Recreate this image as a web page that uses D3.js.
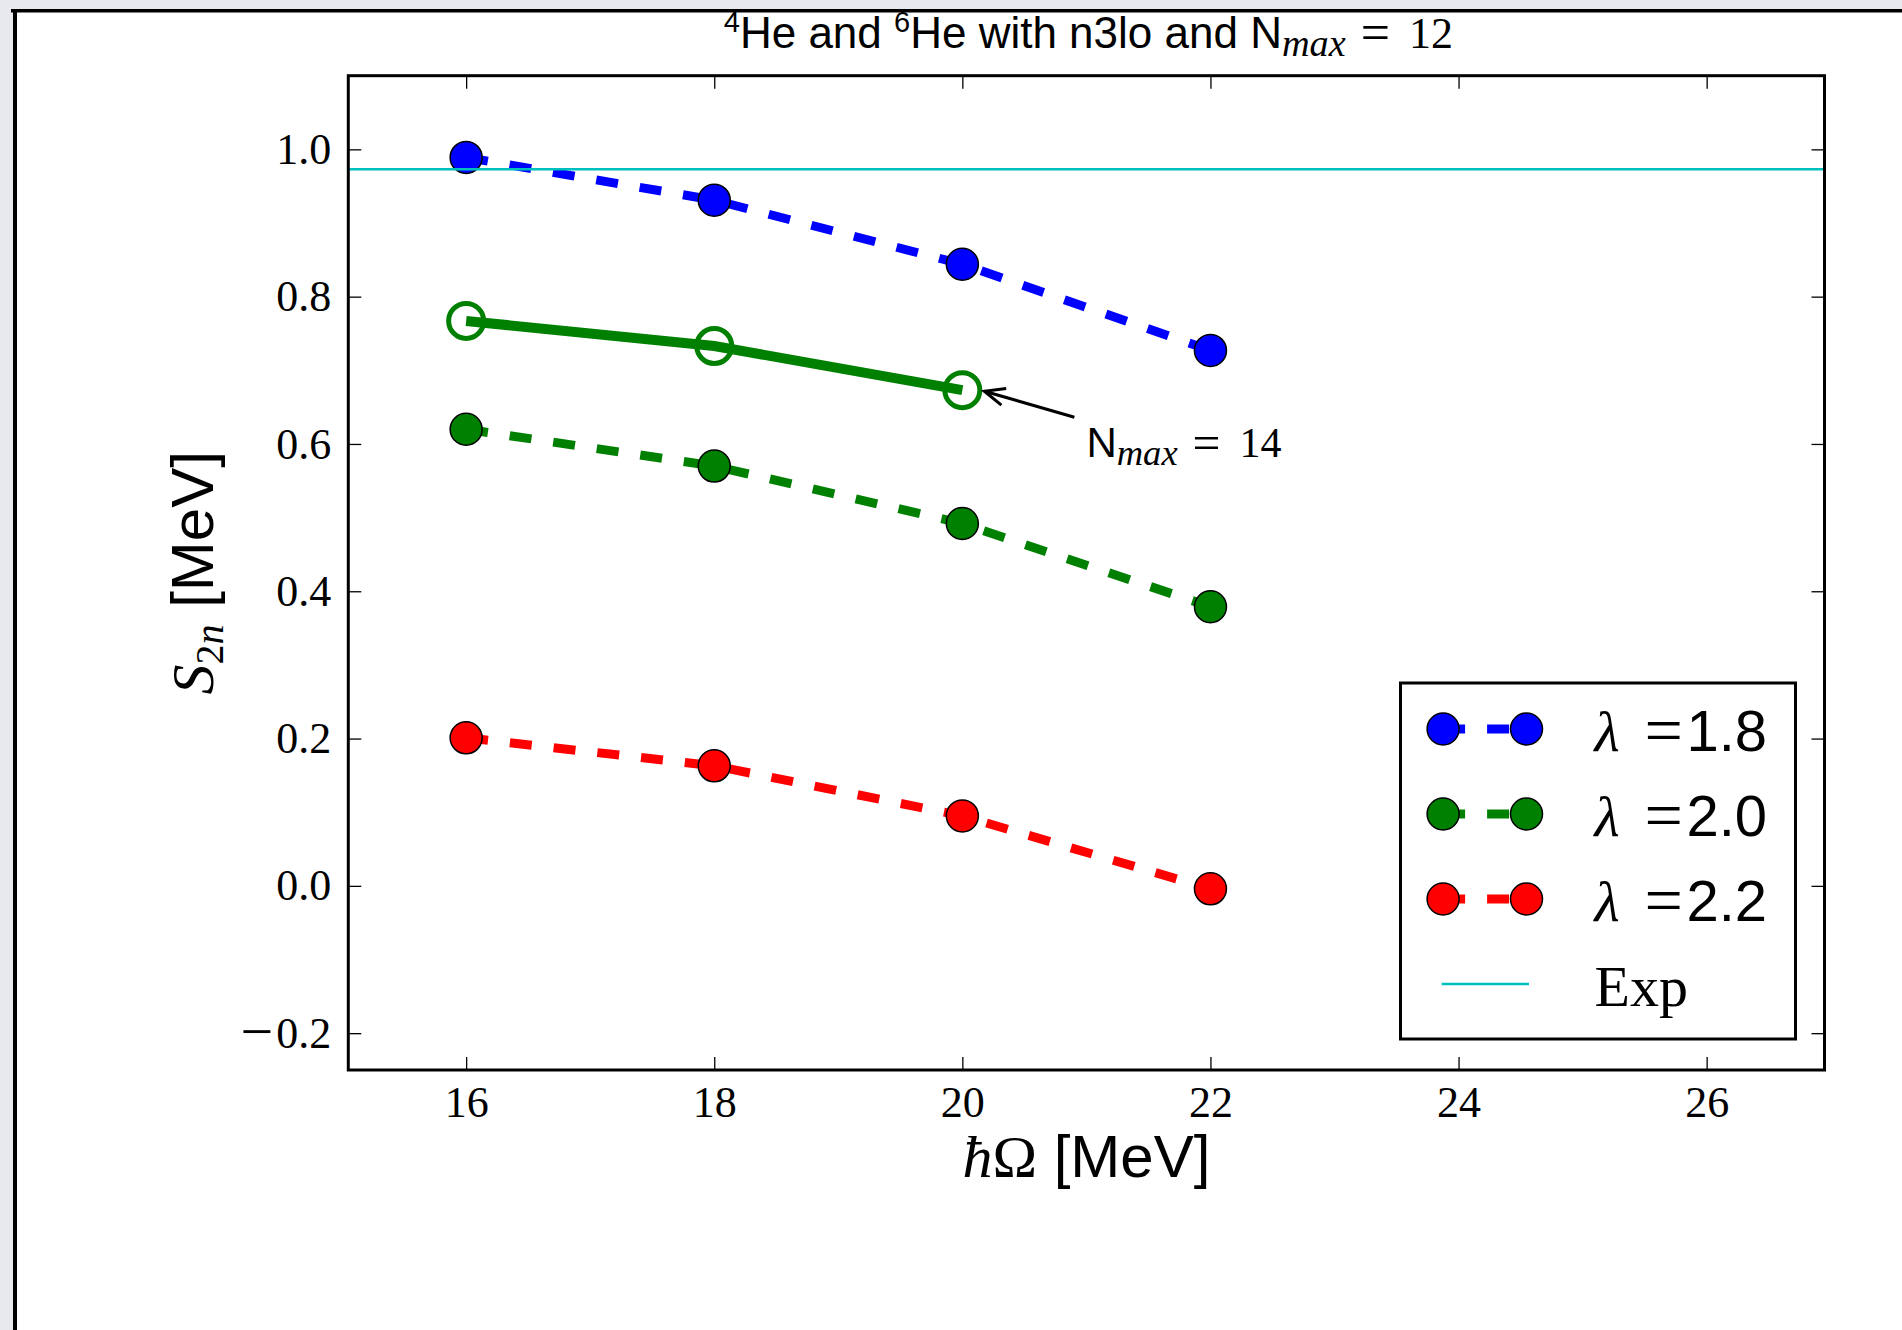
<!DOCTYPE html>
<html>
<head>
<meta charset="utf-8">
<script src="https://cdn.jsdelivr.net/npm/d3@7"></script>
<style>
  body { margin: 0; background: #e8e9ec; }
  svg { display: block; }
  text { white-space: pre; }
</style>
</head>
<body>
<script>
// Two-neutron separation energy of 6He vs oscillator frequency
const hbarOmega      = [16, 18, 20, 22];
const s2nLambda18    = [0.989, 0.931, 0.844, 0.727];
const s2nLambda20    = [0.620, 0.570, 0.492, 0.379];
const s2nLambda22    = [0.201, 0.163, 0.095, -0.004];
const hbarOmegaN14   = [16, 18, 20];
const s2nLambda20N14 = [0.767, 0.733, 0.673];
const s2nExp         = 0.973;

const lambdaLabels = ["1.8", "2.0", "2.2"];
const lambdaColors = ["#0000ff", "#008000", "#ff0000"];
const xTickValues  = [16, 18, 20, 22, 24, 26];
const yTickValues  = [-0.2, 0.0, 0.2, 0.4, 0.6, 0.8, 1.0];
const xDomain      = [15.05, 26.95];
const yDomain      = [-0.25, 1.1];

const W = 1902, H = 1330;
const plot = { left: 348.3, right: 1824.5, top: 75.7, bottom: 1070 };

const SERIF = "'Liberation Serif', 'Times New Roman', serif";
const SANS  = "'Liberation Sans', Arial, Helvetica, sans-serif";

const svg = d3.select("body").append("svg").attr("width", W).attr("height", H);

// window frame
svg.append("rect").attr("x", 0).attr("y", 0).attr("width", W).attr("height", H).attr("fill", "#e8e9ec");
svg.append("rect").attr("x", 13).attr("y", 9).attr("width", W - 13).attr("height", H - 9).attr("fill", "#ffffff");
svg.append("rect").attr("x", 11).attr("y", 9).attr("width", W - 11).attr("height", 3.5).attr("fill", "#000");
svg.append("rect").attr("x", 13).attr("y", 9).attr("width", 4).attr("height", H - 9).attr("fill", "#000");

const x = d3.scaleLinear().domain(xDomain).range([plot.left, plot.right]);
const y = d3.scaleLinear().domain(yDomain).range([plot.bottom, plot.top]);

svg.append("defs").append("clipPath").attr("id", "plotArea")
  .append("rect").attr("x", plot.left).attr("y", plot.top)
  .attr("width", plot.right - plot.left).attr("height", plot.bottom - plot.top);

// axes with inward ticks on all four sides
const TICK = 13;
const TICK_FONT = 44;
function styleAxis(g, withLabels) {
  g.select(".domain").remove();
  g.selectAll(".tick line").attr("stroke", "#000").attr("stroke-width", 1.3);
  g.selectAll(".tick text")
    .attr("font-family", SERIF).attr("font-size", TICK_FONT).attr("fill", "#000");
  if (!withLabels) g.selectAll(".tick text").remove();
}
svg.append("g").attr("transform", `translate(0,${plot.bottom})`)
  .call(d3.axisBottom(x).tickValues(xTickValues).tickSizeInner(-TICK).tickSizeOuter(0)
        .tickPadding(16).tickFormat(d3.format("d")))
  .call(g => styleAxis(g, true));
svg.append("g").attr("transform", `translate(0,${plot.top})`)
  .call(d3.axisTop(x).tickValues(xTickValues).tickSizeInner(-TICK).tickSizeOuter(0))
  .call(g => styleAxis(g, false));
const yAxisG = svg.append("g").attr("transform", `translate(${plot.left},0)`)
  .call(d3.axisLeft(y).tickValues(yTickValues).tickSizeInner(-TICK).tickSizeOuter(0)
        .tickPadding(17).tickFormat(d3.format(".1f")))
  .call(g => styleAxis(g, true));
// wider math-style minus sign on negative labels
yAxisG.selectAll(".tick text").each(function () {
  const t = d3.select(this);
  const s = t.text();
  if (s.startsWith("\u2212")) {
    const base = 0.32 * TICK_FONT;
    t.text(null).attr("dy", null);
    t.append("tspan").attr("font-size", 58).attr("dy", base + 3.5).text("\u2212");
    t.append("tspan").attr("dy", -3.5).attr("dx", 3).text(s.slice(1));
  }
});
svg.append("g").attr("transform", `translate(${plot.right},0)`)
  .call(d3.axisRight(y).tickValues(yTickValues).tickSizeInner(-TICK).tickSizeOuter(0))
  .call(g => styleAxis(g, false));

// data
const line = d3.line().x(d => x(d[0])).y(d => y(d[1]));
const MARKER_R = 16;
const DASH = "22,22";

const dataLayer = svg.append("g").attr("clip-path", "url(#plotArea)");
const lambdaSeries = [s2nLambda18, s2nLambda20, s2nLambda22];
lambdaSeries.forEach((vals, i) => {
  const pts = d3.zip(hbarOmega, vals);
  dataLayer.append("path").datum(pts).attr("d", line)
    .attr("fill", "none").attr("stroke", lambdaColors[i])
    .attr("stroke-width", 9).attr("stroke-dasharray", DASH);
  dataLayer.selectAll(null).data(pts).join("circle")
    .attr("cx", d => x(d[0])).attr("cy", d => y(d[1])).attr("r", MARKER_R)
    .attr("fill", lambdaColors[i]).attr("stroke", "#000").attr("stroke-width", 1.5);
});

// experimental value
dataLayer.append("line")
  .attr("x1", plot.left).attr("x2", plot.right)
  .attr("y1", y(s2nExp)).attr("y2", y(s2nExp))
  .attr("stroke", "#00bfbf").attr("stroke-width", 2.6);

// lambda = 2.0 at Nmax = 14
const ptsN14 = d3.zip(hbarOmegaN14, s2nLambda20N14);
dataLayer.append("path").datum(ptsN14).attr("d", line)
  .attr("fill", "none").attr("stroke", "#008000").attr("stroke-width", 10);
dataLayer.selectAll(null).data(ptsN14).join("circle")
  .attr("cx", d => x(d[0])).attr("cy", d => y(d[1])).attr("r", 17.5)
  .attr("fill", "none").attr("stroke", "#008000").attr("stroke-width", 5);

// annotation pointing at the last Nmax = 14 point
const annX = 21.0, annY = 0.582;
const target = ptsN14[ptsN14.length - 1];
const tip  = [x(target[0]) + 22, y(target[1]) + 1];
const tail = [x(annX) - 12, y(annY) - 40];
svg.append("line").attr("x1", tail[0]).attr("y1", tail[1]).attr("x2", tip[0]).attr("y2", tip[1])
  .attr("stroke", "#000").attr("stroke-width", 3);
{
  const ang = Math.atan2(tail[1] - tip[1], tail[0] - tip[0]);
  const L = 22, half = 23 * Math.PI / 180;
  const p1 = [tip[0] + L * Math.cos(ang - half), tip[1] + L * Math.sin(ang - half)];
  const p2 = [tip[0] + L * Math.cos(ang + half), tip[1] + L * Math.sin(ang + half)];
  svg.append("path").attr("d", `M${p1}L${tip}L${p2}`)
    .attr("fill", "none").attr("stroke", "#000").attr("stroke-width", 3)
    .attr("stroke-linejoin", "miter");
}

// "N_max = value" in mixed text / math fonts
function nmaxLabel(sel, size, value) {
  sel.append("tspan").attr("font-family", SANS).attr("font-size", size).text("N");
  sel.append("tspan").attr("font-family", SERIF).attr("font-style", "italic")
    .attr("font-size", size * 0.87).attr("dy", 8).text("max");
  sel.append("tspan").attr("font-family", SERIF).attr("font-size", size * 1.18)
    .attr("dy", -6).attr("dx", 15).text("=");
  sel.append("tspan").attr("font-family", SERIF).attr("font-size", size)
    .attr("dy", -2).attr("dx", 19).text(value);
}
const ann = svg.append("text").attr("x", x(annX)).attr("y", y(annY)).attr("fill", "#000");
nmaxLabel(ann, 42, "14");

// title
const cx = (plot.left + plot.right) / 2;
const title = svg.append("text").attr("x", cx + 2).attr("y", 48).attr("text-anchor", "middle")
  .attr("font-family", SANS).attr("font-size", 44).attr("fill", "#000");
title.append("tspan").attr("font-size", 29).attr("dy", -16).text("4");
title.append("tspan").attr("dy", 16).text("He and ");
title.append("tspan").attr("font-size", 29).attr("dy", -16).text("6");
title.append("tspan").attr("dy", 16).text("He with n3lo and ");
nmaxLabel(title, 44, "12");

// axis labels
const xl = svg.append("text").attr("x", cx).attr("y", 1177).attr("text-anchor", "middle")
  .attr("font-size", 60).attr("fill", "#000");
xl.append("tspan").attr("font-family", SERIF).attr("font-style", "italic").text("ħ");
xl.append("tspan").attr("font-family", SERIF).text("Ω");
xl.append("tspan").attr("font-family", SANS).text(" [MeV]");

const cy = (plot.top + plot.bottom) / 2;
const yl = svg.append("text").attr("transform", `translate(213,${cy}) rotate(-90)`)
  .attr("text-anchor", "middle").attr("font-size", 60).attr("fill", "#000");
yl.append("tspan").attr("font-family", SERIF).attr("font-style", "italic").text("S");
yl.append("tspan").attr("font-family", SERIF).attr("font-size", 40).attr("dy", 10).text("2");
yl.append("tspan").attr("font-family", SERIF).attr("font-style", "italic").attr("font-size", 40).text("n");
yl.append("tspan").attr("font-family", SANS).attr("dy", -10).text(" [MeV]");

// legend
const lg = { left: plot.right - 424, top: plot.bottom - 387, width: 395, height: 356 };
svg.append("rect").attr("x", lg.left).attr("y", lg.top).attr("width", lg.width).attr("height", lg.height)
  .attr("fill", "#fff").attr("stroke", "#000").attr("stroke-width", 3);
const rowY = i => lg.top + 46 + i * 85;
const hx0 = lg.left + 42.6, hx1 = lg.left + 126;
const textX = lg.left + 194;
lambdaLabels.forEach((lab, i) => {
  const yy = rowY(i);
  svg.append("line").attr("x1", hx0).attr("x2", hx1).attr("y1", yy).attr("y2", yy)
    .attr("stroke", lambdaColors[i]).attr("stroke-width", 9).attr("stroke-dasharray", DASH);
  [hx0, hx1].forEach(px => svg.append("circle").attr("cx", px).attr("cy", yy).attr("r", MARKER_R)
    .attr("fill", lambdaColors[i]).attr("stroke", "#000").attr("stroke-width", 1.5));
  const t = svg.append("text").attr("y", yy + 22).attr("font-size", 58).attr("fill", "#000");
  t.append("tspan").attr("x", textX).attr("font-family", SERIF).attr("font-style", "italic").text("λ");
  t.append("tspan").attr("x", textX + 50).attr("dy", 2).attr("font-family", SERIF).attr("font-size", 68).text("=");
  t.append("tspan").attr("x", textX + 92).attr("dy", -2).attr("font-family", SANS).text(lab);
});
{
  const yy = rowY(3);
  svg.append("line").attr("x1", hx0 - 1.5).attr("x2", hx1 + 2.5).attr("y1", yy).attr("y2", yy)
    .attr("stroke", "#00bfbf").attr("stroke-width", 2.6);
  svg.append("text").attr("x", textX).attr("y", yy + 22).attr("font-family", SERIF)
    .attr("font-size", 58).attr("fill", "#000").text("Exp");
}

// plot frame on top
svg.append("rect").attr("x", plot.left).attr("y", plot.top)
  .attr("width", plot.right - plot.left).attr("height", plot.bottom - plot.top)
  .attr("fill", "none").attr("stroke", "#000").attr("stroke-width", 3);
</script>
</body>
</html>
